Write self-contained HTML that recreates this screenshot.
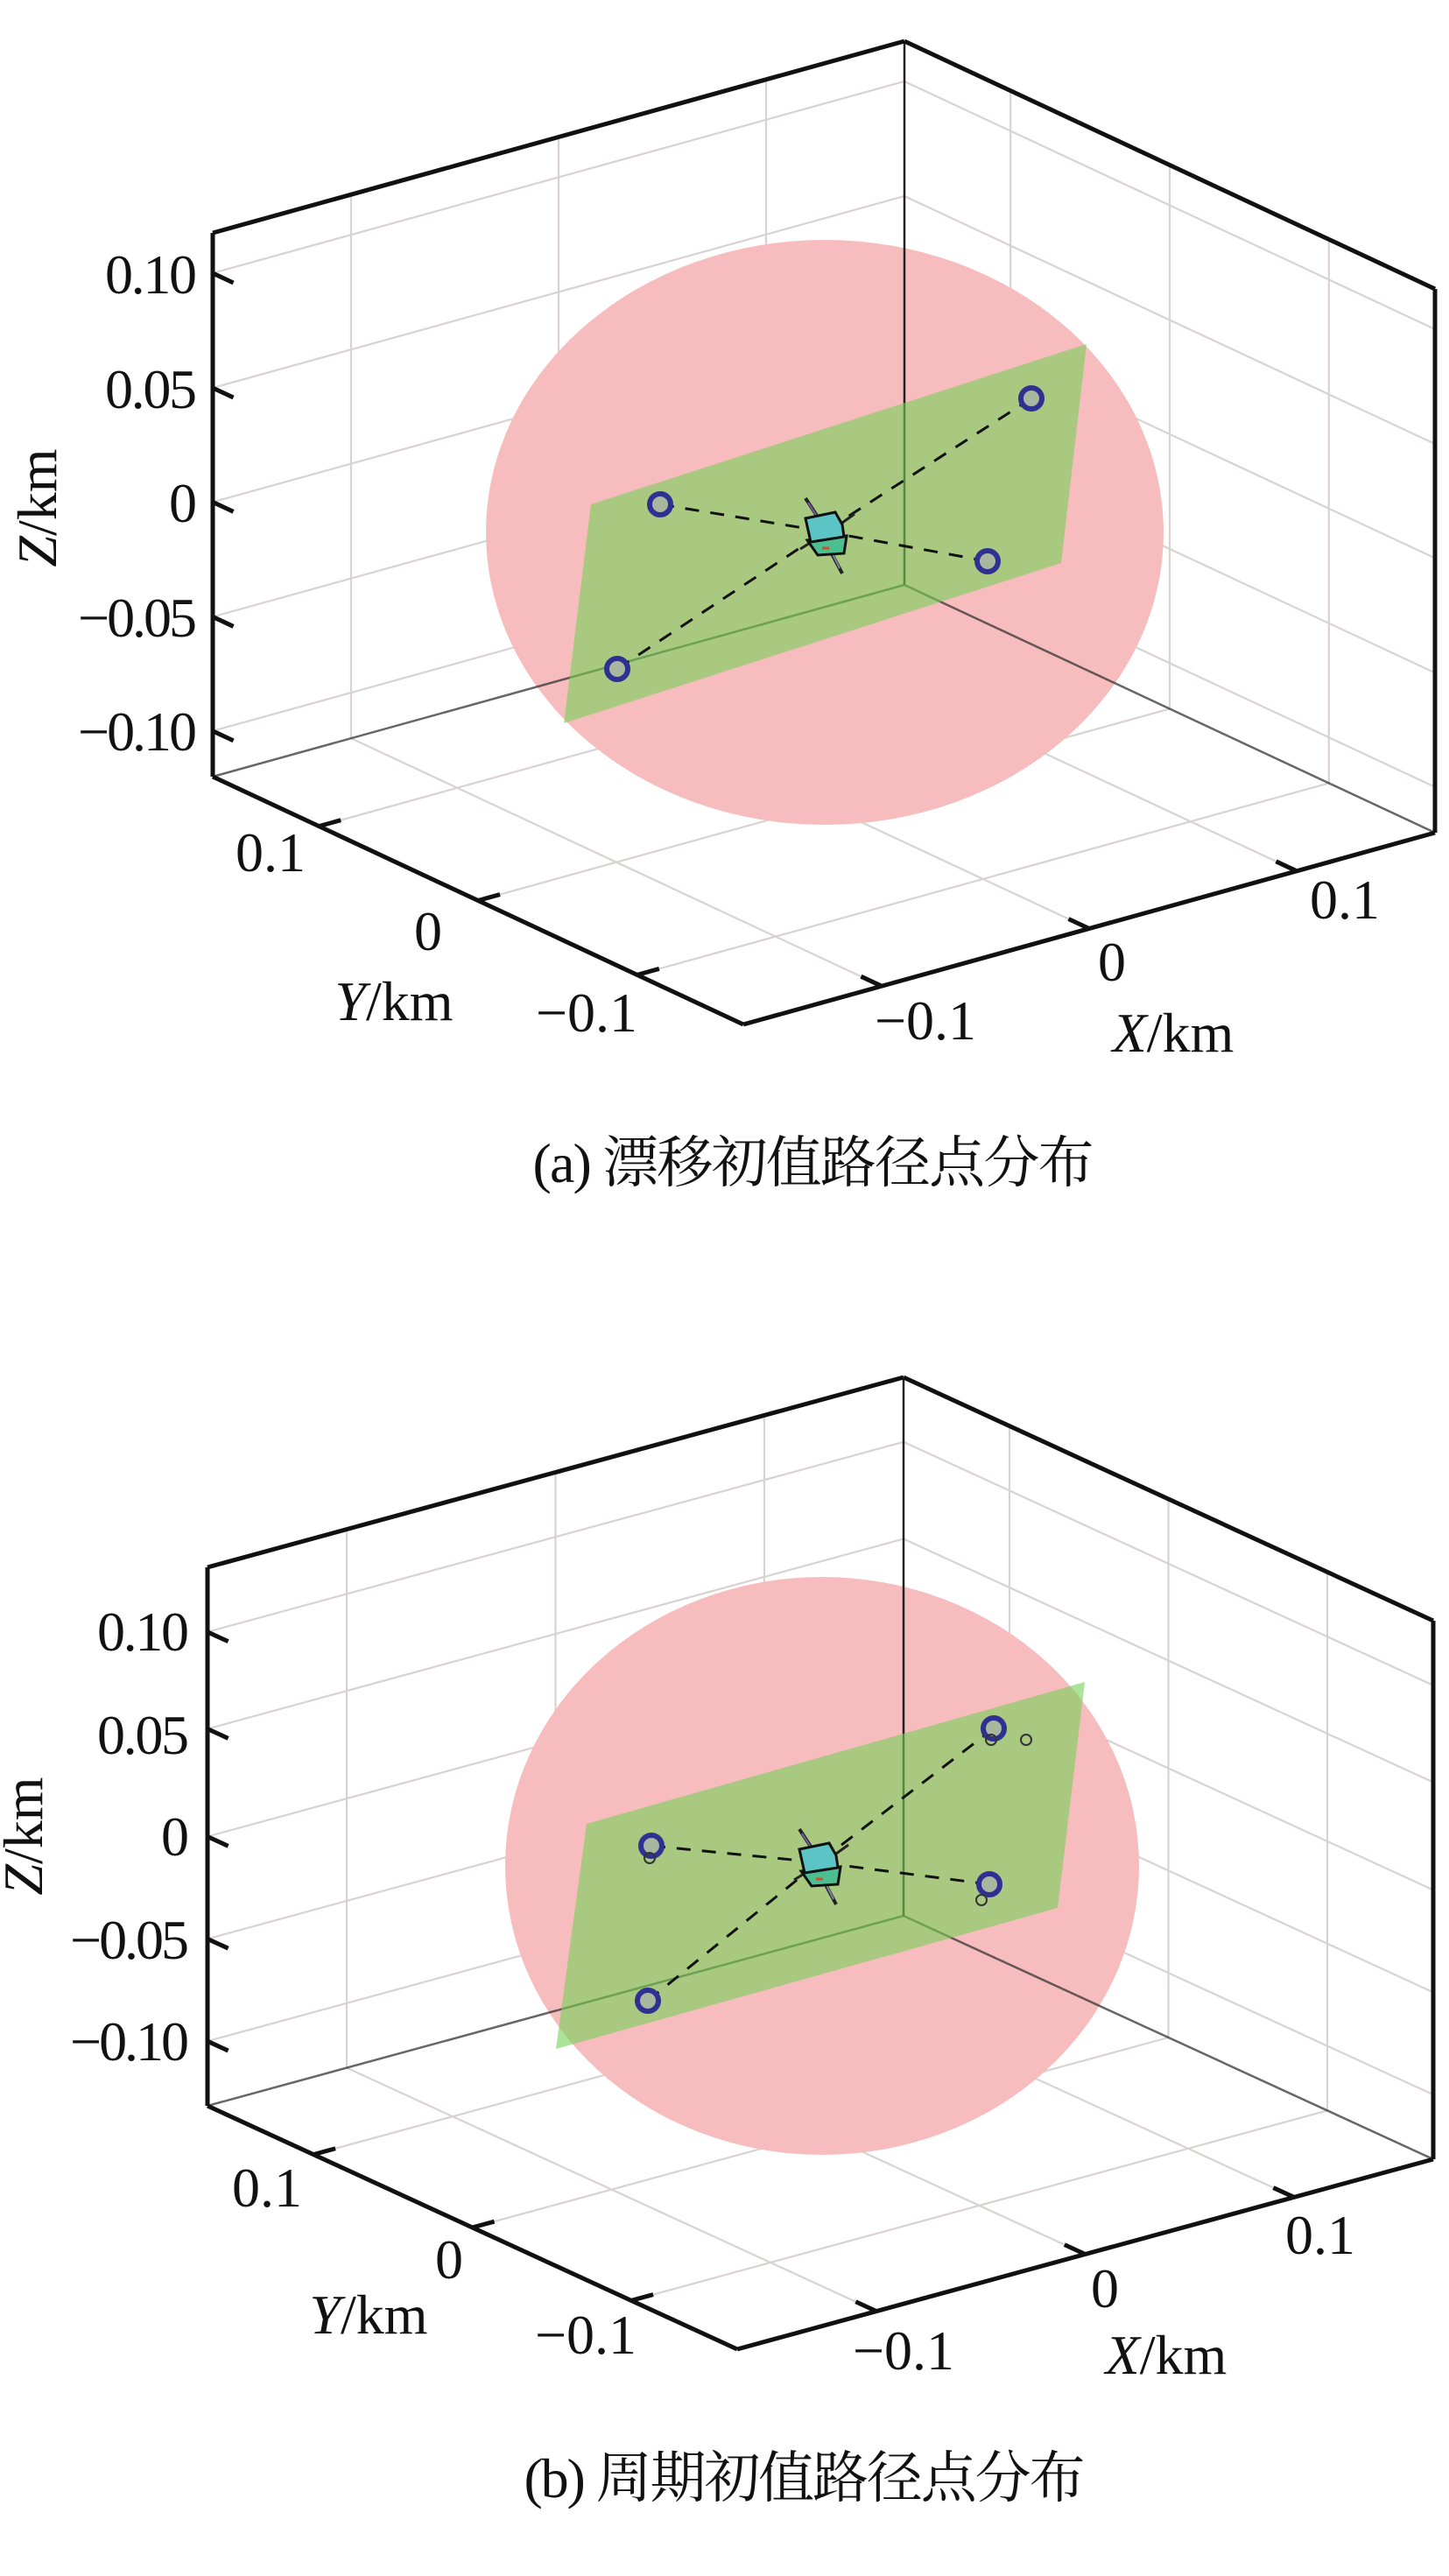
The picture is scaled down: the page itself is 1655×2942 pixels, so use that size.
<!DOCTYPE html>
<html><head><meta charset="utf-8"><style>
html,body{margin:0;padding:0;background:#fff;}
svg{display:block;}
text{font-family:"Liberation Serif","Noto Serif CJK SC",serif;fill:#111;}
</style></head><body>
<svg id="s" width="1655" height="2942" viewBox="0 0 1655 2942" xmlns="http://www.w3.org/2000/svg">
<g id="ga"></g>
<g id="gb"></g>
<!-- panel a text -->
<g font-size="64">
<text x="225" y="335" text-anchor="end" textLength="105">0.10</text>
<text x="225" y="466" text-anchor="end" textLength="105">0.05</text>
<text x="225" y="596" text-anchor="end">0</text>
<text x="225" y="727" text-anchor="end" textLength="136">−0.05</text>
<text x="225" y="857" text-anchor="end" textLength="136">−0.10</text>
<text x="309" y="995" text-anchor="middle">0.1</text>
<text x="489" y="1085" text-anchor="middle">0</text>
<text x="670" y="1178" text-anchor="middle">−0.1</text>
<text x="450" y="1165" text-anchor="middle"><tspan font-style="italic">Y</tspan>/km</text>
<text x="1057" y="1187" text-anchor="middle">−0.1</text>
<text x="1270" y="1120" text-anchor="middle">0</text>
<text x="1536" y="1049" text-anchor="middle">0.1</text>
<text x="1340" y="1201" text-anchor="middle"><tspan font-style="italic">X</tspan>/km</text>
<text transform="translate(64,580) rotate(-90)" text-anchor="middle"><tspan font-style="italic">Z</tspan>/km</text>
<text x="929" y="1350" text-anchor="middle" textLength="641">(a) 漂移初值路径点分布</text>
</g>
<!-- panel b text -->
<g font-size="64">
<text x="216" y="1885" text-anchor="end" textLength="105">0.10</text>
<text x="216" y="2003" text-anchor="end" textLength="105">0.05</text>
<text x="216" y="2119" text-anchor="end">0</text>
<text x="216" y="2237" text-anchor="end" textLength="136">−0.05</text>
<text x="216" y="2353" text-anchor="end" textLength="136">−0.10</text>
<text x="305" y="2520" text-anchor="middle">0.1</text>
<text x="513" y="2602" text-anchor="middle">0</text>
<text x="669" y="2688" text-anchor="middle">−0.1</text>
<text x="421" y="2665" text-anchor="middle"><tspan font-style="italic">Y</tspan>/km</text>
<text x="1032" y="2706" text-anchor="middle">−0.1</text>
<text x="1262" y="2635" text-anchor="middle">0</text>
<text x="1508" y="2574" text-anchor="middle">0.1</text>
<text x="1332" y="2711" text-anchor="middle"><tspan font-style="italic">X</tspan>/km</text>
<text transform="translate(48,2097) rotate(-90)" text-anchor="middle"><tspan font-style="italic">Z</tspan>/km</text>
<text x="919" y="2852" text-anchor="middle" textLength="641">(b) 周期初值路径点分布</text>
</g>
</svg>
<script>
var NS="http://www.w3.org/2000/svg";
function el(g,t,a){var e=document.createElementNS(NS,t);for(var k in a)e.setAttribute(k,a[k]);g.appendChild(e);return e;}
function ln(g,p,q,st,w,extra){var a={x1:p[0],y1:p[1],x2:q[0],y2:q[1],stroke:st,"stroke-width":w};if(extra)for(var k in extra)a[k]=extra[k];return el(g,"line",a);}
function add(){var r=[0,0];for(var i=0;i<arguments.length;i++){r[0]+=arguments[i][0];r[1]+=arguments[i][1];}return r;}
function mul(v,s){return [v[0]*s,v[1]*s];}
function panel(g,c){
 var B=c.B,L=c.L,R=c.R,H=[0,-c.h];
 var gc="#d9d2d2",gw=2.2;
 // grid
 c.zf.forEach(function(z){
  ln(g,add(B,L,mul(H,z)),add(B,mul(H,z)),gc,gw);
  ln(g,add(B,mul(H,z)),add(B,R,mul(H,z)),gc,gw);
 });
 [0.2,0.5,0.8].forEach(function(s){
  ln(g,add(B,mul(L,s)),add(B,mul(L,s),H),gc,gw);
  ln(g,add(B,mul(R,s)),add(B,mul(R,s),H),gc,gw);
  ln(g,add(B,mul(R,s)),add(B,mul(R,s),L),gc,gw);
  ln(g,add(B,mul(L,s)),add(B,mul(L,s),R),gc,gw);
 });
 // sphere
 el(g,"ellipse",{cx:c.sp[0],cy:c.sp[1],rx:c.sp[2],ry:c.sp[3],fill:"#f7bcbd"});
 // back edges
 ln(g,add(B,H),B,"#222",2.5);
 ln(g,B,add(B,L),"#333",2.5,{opacity:0.75});
 ln(g,B,add(B,R),"#333",2.5,{opacity:0.75});
 // plane
 el(g,"polygon",{points:c.pl.map(function(p){return p.join(",")}).join(" "),fill:"rgb(115,210,85)","fill-opacity":0.6});
 // dashed lines
 c.pts.forEach(function(p){ln(g,p,c.sat,"#111",3,{"stroke-dasharray":"16,13"});});
 // points
 c.pts.forEach(function(p){el(g,"circle",{cx:p[0],cy:p[1],r:12,fill:"#a9b6a0",stroke:"#2e3192","stroke-width":6});});
 (c.small||[]).forEach(function(p){el(g,"circle",{cx:p[0],cy:p[1],r:6,fill:"none",stroke:"#333","stroke-width":2});});
 // satellite
 var s=c.sat,x=s[0],y=s[1];
 ln(g,[x-22,y-38],[x+8,y+8],"#222",4);
 ln(g,[x-19,y-33],[x+5,y+4],"#7a5fb0",2);
 ln(g,[x+2,y+14],[x+20,y+48],"#222",4);
 ln(g,[x+4,y+16],[x+17,y+42],"#7f86a8",2);
 ln(g,[x-28,y+20],[x-12,y+10],"#222",3);
 ln(g,[x+20,y-10],[x+34,y-20],"#222",3);
 el(g,"polygon",{points:(x-20)+","+(y+10)+" "+(x+25)+","+(y+5)+" "+(x+22)+","+(y+25)+" "+(x-8)+","+(y+27),fill:"#4cbf90",stroke:"#111","stroke-width":3});
 el(g,"polygon",{points:(x-22)+","+(y-15)+" "+(x+12)+","+(y-22)+" "+(x+20)+","+(y-8)+" "+(x+22)+","+(y+6)+" "+(x-16)+","+(y+12),fill:"#5cc4c4",stroke:"#111","stroke-width":3});
 ln(g,[x-3,y+19],[x+5,y+19],"#d0502a",3);
 // front axes
 var k="#111",w=5;
 ln(g,add(B,L,H),add(B,L),k,w);
 ln(g,add(B,R,H),add(B,R),k,w);
 ln(g,add(B,H),add(B,L,H),k,w);
 ln(g,add(B,H),add(B,R,H),k,w);
 ln(g,add(B,L),add(B,L,R),k,w);
 ln(g,add(B,L,R),add(B,R),k,w);
 // ticks
 var rn=Math.hypot(R[0],R[1]),Ln=Math.hypot(L[0],L[1]);
 var ru=[R[0]/rn*26,R[1]/rn*26],lu=[-L[0]/Ln*26,-L[1]/Ln*26],rmu=[-R[0]/rn*26,-R[1]/rn*26];
 c.zf.forEach(function(z){var p=add(B,L,mul(H,z));ln(g,p,add(p,ru),k,w);});
 [0.2,0.5,0.8].forEach(function(s){
  var p=add(B,L,mul(R,s));ln(g,p,add(p,lu),k,w);
  var q=add(B,R,mul(L,s));ln(g,q,add(q,rmu),k,w);
 });
}
panel(document.getElementById("ga"),{B:[1033,668],L:[-790,219],R:[606,283],h:621,
 zf:[0.084,0.294,0.505,0.715,0.926],sp:[942,608,387,334],
 pl:[[675,576],[1241,393],[1212,643],[644,826]],
 pts:[[754,576],[1178,455],[1128,641],[705,764]],sat:[942,607]});
panel(document.getElementById("gb"),{B:[1032,2188],L:[-795,217],R:[605,278],h:615,
 zf:[0.12,0.31,0.50,0.70,0.88],sp:[939,2131,362,330],
 pl:[[670,2083],[1239,1921],[1208,2179],[635,2340]],
 pts:[[744,2108],[1135,1974],[1130,2152],[740,2285]],sat:[935,2127],
 small:[[1172,1987],[1132,1987],[742,2122],[1121,2170]]});
</script>
</body></html>
